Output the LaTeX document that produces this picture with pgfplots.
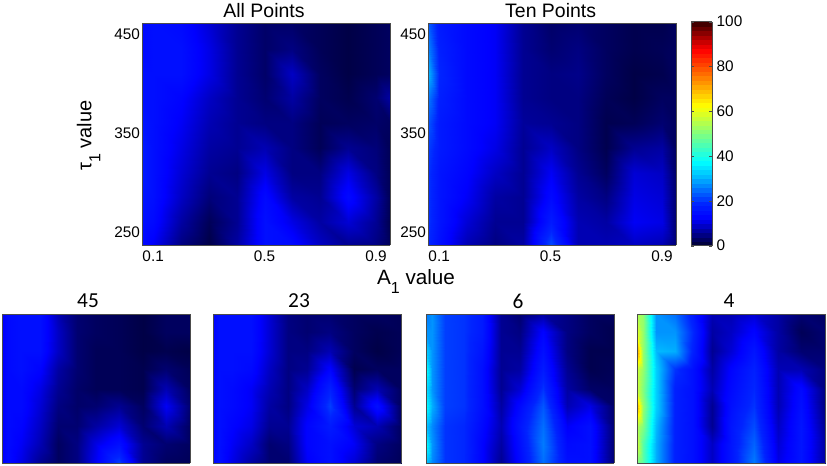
\documentclass[border=0pt]{standalone}
\usepackage{pgfplots}
\usepackage{fontspec}
\setmainfont{Liberation Sans}
\newfontfamily\carlito{Carlito}
\pgfplotsset{compat=1.18}
\pgfplotsset{
 colormap={rjet}{rgb255=(0,0,45) rgb255=(0,0,150) rgb255=(0,0,255) rgb255=(0,35,255) rgb255=(0,110,255) rgb255=(0,190,255) rgb255=(0,255,255) rgb255=(64,255,192) rgb255=(128,255,128) rgb255=(192,255,64) rgb255=(255,255,0) rgb255=(255,192,0) rgb255=(255,128,0) rgb255=(255,64,0) rgb255=(255,0,0) rgb255=(160,0,0) rgb255=(50,0,0)},
 panel/.style={scale only axis, axis on top, view={0}{90}, colormap name=rjet,
   point meta min=0, point meta max=100, axis line style={color=black!70,line width=0.6pt},
   /pgf/number format/assume math mode=true, anchor=south west},
 top/.style={panel, width=186pt, height=166.5pt, xmin=0.06, xmax=0.95, ymin=237, ymax=461,
   xtick={0.1,0.5,0.9}, ytick={250,350,450}, xticklabels={0.1,0.5,0.9},
   tick align=inside, major tick length=0pt, 
   tick label style={font=\fontsize{11.5}{13}\selectfont},
   xticklabel style={yshift=-1pt}, yticklabel style={xshift=2pt}},
 low/.style={panel, width=141pt, height=111.75pt, xmin=0, xmax=1, ymin=0, ymax=1, xtick=\empty, ytick=\empty},
 sf/.style={surf, shader=interp, mesh/rows=10, mesh/cols=11},
 sl/.style={surf, shader=interp, mesh/rows=9, mesh/cols=11},
}
\begin{document}
\begin{tikzpicture}
\path[use as bounding box] (0,0) rectangle (620.25pt,348.75pt);
% All Points
\begin{axis}[top, at={(106.5pt,165pt)}]
\addplot3[sf] table {
0.06 237 14
0.1 237 12
0.2 237 5
0.3 237 1.5
0.4 237 7
0.5 237 15
0.6 237 14
0.7 237 9
0.8 237 6
0.9 237 5
0.95 237 2.5
0.06 260 15
0.1 260 14
0.2 260 7
0.3 260 2.5
0.4 260 6
0.5 260 15
0.6 260 11
0.7 260 7
0.8 260 10
0.9 260 6
0.95 260 2
0.06 285 16
0.1 285 15
0.2 285 9
0.3 285 4.5
0.4 285 6
0.5 285 14
0.6 285 7
0.7 285 6
0.8 285 14
0.9 285 7
0.95 285 2.5
0.06 310 17
0.1 310 15
0.2 310 10
0.3 310 6
0.4 310 5
0.5 310 11
0.6 310 5
0.7 310 5
0.8 310 11
0.9 310 5
0.95 310 2.5
0.06 335 17
0.1 335 15
0.2 335 11
0.3 335 7
0.4 335 6
0.5 335 8
0.6 335 5
0.7 335 2.5
0.8 335 6
0.9 335 4.5
0.95 335 2.5
0.06 360 16
0.1 360 15
0.2 360 12
0.3 360 8
0.4 360 6
0.5 360 5
0.6 360 5
0.7 360 2.5
0.8 360 3
0.9 360 3.5
0.95 360 3
0.06 385 15
0.1 385 15
0.2 385 13
0.3 385 9
0.4 385 6
0.5 385 4
0.6 385 7
0.7 385 3
0.8 385 2
0.9 385 4
0.95 385 7
0.06 410 15
0.1 410 15
0.2 410 15
0.3 410 11
0.4 410 6
0.5 410 3.5
0.6 410 9
0.7 410 3
0.8 410 1.5
0.9 410 2.5
0.95 410 3
0.06 435 14
0.1 435 15
0.2 435 15
0.3 435 11
0.4 435 6
0.5 435 3.5
0.6 435 5
0.7 435 2.5
0.8 435 1.5
0.9 435 2.5
0.95 435 3
0.06 461 14
0.1 461 15
0.2 461 14
0.3 461 10
0.4 461 6
0.5 461 3.5
0.6 461 3.5
0.7 461 2.5
0.8 461 1.5
0.9 461 2.5
0.95 461 3
};
\end{axis}
% Ten Points
\begin{axis}[top, at={(321pt,165pt)}]
\addplot3[sf] table {
0.06 237 19
0.1 237 15
0.2 237 8
0.3 237 5
0.4 237 7
0.5 237 22
0.6 237 8
0.7 237 8
0.8 237 9
0.9 237 8
0.95 237 4
0.06 260 20
0.1 260 16
0.2 260 10
0.3 260 6
0.4 260 6
0.5 260 17
0.6 260 8
0.7 260 7
0.8 260 12
0.9 260 11
0.95 260 4
0.06 285 20
0.1 285 16
0.2 285 12
0.3 285 7
0.4 285 6
0.5 285 14
0.6 285 7
0.7 285 5
0.8 285 11
0.9 285 10
0.95 285 4
0.06 310 20
0.1 310 16
0.2 310 13
0.3 310 9
0.4 310 6
0.5 310 12
0.6 310 6
0.7 310 3
0.8 310 10
0.9 310 9
0.95 310 3.5
0.06 335 21
0.1 335 17
0.2 335 14
0.3 335 11
0.4 335 6
0.5 335 9
0.6 335 5
0.7 335 2
0.8 335 6
0.9 335 7
0.95 335 3
0.06 360 23
0.1 360 17
0.2 360 14
0.3 360 12
0.4 360 6.5
0.5 360 6
0.6 360 5
0.7 360 2
0.8 360 2.5
0.9 360 4
0.95 360 3
0.06 385 26
0.1 385 18
0.2 385 14
0.3 385 12
0.4 385 6
0.5 385 5
0.6 385 5
0.7 385 2.5
0.8 385 1.5
0.9 385 3
0.95 385 3
0.06 410 31
0.1 410 19
0.2 410 14
0.3 410 12
0.4 410 6
0.5 410 5
0.6 410 5.5
0.7 410 3
0.8 410 1.5
0.9 410 2
0.95 410 3
0.06 435 27
0.1 435 18
0.2 435 14
0.3 435 12
0.4 435 6
0.5 435 4
0.6 435 5
0.7 435 3
0.8 435 2
0.9 435 2.5
0.95 435 3
0.06 461 24
0.1 461 17
0.2 461 14
0.3 461 12
0.4 461 6
0.5 461 3.5
0.6 461 4
0.7 461 3
0.8 461 2
0.9 461 2
0.95 461 3
};
\end{axis}
% colour scale
\begin{axis}[panel, at={(518.25pt,164.5pt)}, width=15.75pt, height=168pt, xmin=0, xmax=1, ymin=0, ymax=100,
  xtick=\empty, ytick={0,20,40,60,80,100}, yticklabels={0,20,40,60,80,100}, yticklabel pos=right,
  tick align=inside, major tick length=2pt, tick style={color=black!70},
  tick label style={font=\fontsize{11.5}{13}\selectfont}]
\addplot3[surf, shader=faceted, faceted color=mapped color, line width=0.3pt, mesh/rows=51, mesh/cols=2] coordinates {
(0,0,0)(1,0,0)(0,2,2)(1,2,2)(0,4,4)(1,4,4)(0,6,6)(1,6,6)(0,8,8)(1,8,8)
(0,10,10)(1,10,10)(0,12,12)(1,12,12)(0,14,14)(1,14,14)(0,16,16)(1,16,16)(0,18,18)(1,18,18)
(0,20,20)(1,20,20)(0,22,22)(1,22,22)(0,24,24)(1,24,24)(0,26,26)(1,26,26)(0,28,28)(1,28,28)
(0,30,30)(1,30,30)(0,32,32)(1,32,32)(0,34,34)(1,34,34)(0,36,36)(1,36,36)(0,38,38)(1,38,38)
(0,40,40)(1,40,40)(0,42,42)(1,42,42)(0,44,44)(1,44,44)(0,46,46)(1,46,46)(0,48,48)(1,48,48)
(0,50,50)(1,50,50)(0,52,52)(1,52,52)(0,54,54)(1,54,54)(0,56,56)(1,56,56)(0,58,58)(1,58,58)
(0,60,60)(1,60,60)(0,62,62)(1,62,62)(0,64,64)(1,64,64)(0,66,66)(1,66,66)(0,68,68)(1,68,68)
(0,70,70)(1,70,70)(0,72,72)(1,72,72)(0,74,74)(1,74,74)(0,76,76)(1,76,76)(0,78,78)(1,78,78)
(0,80,80)(1,80,80)(0,82,82)(1,82,82)(0,84,84)(1,84,84)(0,86,86)(1,86,86)(0,88,88)(1,88,88)
(0,90,90)(1,90,90)(0,92,92)(1,92,92)(0,94,94)(1,94,94)(0,96,96)(1,96,96)(0,98,98)(1,98,98)
(0,100,100)(1,100,100)
};
\end{axis}
% 45
\begin{axis}[low, at={(1.5pt,1.5pt)}]
\addplot3[sl] table {
0 0 12
.03 0 14
.1 0 11
.2 0 6
.3 0 3
.4 0 5
.5 0 12
.62 0 21
.75 0 6
.87 0 3
1 0 2.5
0 .13 12
.03 .13 14
.1 .13 12
.2 .13 8
.3 .13 3
.4 .13 5
.5 .13 11
.62 .13 15
.75 .13 6
.87 .13 4
1 .13 3
0 .25 12
.03 .25 14
.1 .25 13
.2 .25 9
.3 .25 4
.4 .25 4
.5 .25 7
.62 .25 10
.75 .25 4
.87 .25 8
1 .25 3
0 .38 12
.03 .38 14
.1 .38 14
.2 .38 10
.3 .38 5
.4 .38 3.5
.5 .38 4
.62 .38 6
.75 .38 3
.87 .38 12
1 .38 4
0 .5 12
.03 .5 14
.1 .5 14
.2 .5 11
.3 .5 6
.4 .5 3.5
.5 .5 2.5
.62 .5 2.5
.75 .5 2
.87 .5 8
1 .5 3
0 .63 12
.03 .63 14
.1 .63 15
.2 .63 13
.3 .63 7
.4 .63 4
.5 .63 2.5
.62 .63 2.5
.75 .63 2
.87 .63 4
1 .63 2.5
0 .75 12
.03 .75 14
.1 .75 15
.2 .75 15
.3 .75 9
.4 .75 4
.5 .75 2.5
.62 .75 2.5
.75 .75 1.5
.87 .75 2
1 .75 1.5
0 .88 12
.03 .88 14
.1 .88 15
.2 .88 15
.3 .88 9
.4 .88 4
.5 .88 3
.62 .88 2.5
.75 .88 1.5
.87 .88 3
1 .88 3
0 1 12
.03 1 14
.1 1 15
.2 1 15
.3 1 8
.4 1 4
.5 1 3
.62 1 2.5
.75 1 1.5
.87 1 3
1 1 3
};
\end{axis}
% 23
\begin{axis}[low, at={(159.75pt,1.5pt)}]
\addplot3[sl] table {
0 0 13
.03 0 15
.1 0 11
.2 0 7
.3 0 4
.4 0 4
.5 0 12
.62 0 15
.75 0 10
.87 0 4
1 0 2.5
0 .13 13
.03 .13 15
.1 .13 12
.2 .13 9
.3 .13 4
.4 .13 5
.5 .13 13
.62 .13 15
.75 .13 12
.87 .13 5
1 .13 3
0 .25 13
.03 .25 15
.1 .25 13
.2 .25 11
.3 .25 6
.4 .25 6
.5 .25 13
.62 .25 17
.75 .25 10
.87 .25 8
1 .25 3
0 .38 13
.03 .38 15
.1 .38 14
.2 .38 12
.3 .38 7
.4 .38 5
.5 .38 11
.62 .38 21
.75 .38 6
.87 .38 15
1 .38 3
0 .5 13
.03 .5 15
.1 .5 14
.2 .5 12
.3 .5 8
.4 .5 5
.5 .5 9
.62 .5 18
.75 .5 4
.87 .5 8
1 .5 3
0 .63 13
.03 .63 15
.1 .63 15
.2 .63 14
.3 .63 9
.4 .63 5
.5 .63 6
.62 .63 13
.75 .63 2
.87 .63 3
1 .63 3
0 .75 13
.03 .75 15
.1 .75 15
.2 .75 15
.3 .75 10
.4 .75 5
.5 .75 5
.62 .75 8
.75 .75 3
.87 .75 1.5
1 .75 2.5
0 .88 13
.03 .88 15
.1 .88 15
.2 .88 15
.3 .88 10
.4 .88 5
.5 .88 4
.62 .88 5
.75 .88 3
.87 .88 2
1 .88 2.5
0 1 13
.03 1 15
.1 1 15
.2 1 15
.3 1 10
.4 1 5
.5 1 4
.62 1 4
.75 1 3
.87 1 3
1 1 2.5
};
\end{axis}
% 6
\begin{axis}[low, at={(319.5pt,1.5pt)}]
\addplot3[sl] table {
0 0 32
.03 0 27
.1 0 20
.2 0 19
.3 0 13
.4 0 6
.5 0 14
.62 0 25
.75 0 15
.87 0 15
1 0 4
0 .13 38
.03 .13 28
.1 .13 20
.2 .13 19
.3 .13 13
.4 .13 7
.5 .13 15
.62 .13 26
.75 .13 14
.87 .13 15
1 .13 4
0 .25 32
.03 .25 27
.1 .25 20
.2 .25 19
.3 .25 14
.4 .25 8
.5 .25 16
.62 .25 25
.75 .25 12
.87 .25 15
1 .25 4
0 .38 38
.03 .38 30
.1 .38 21
.2 .38 20
.3 .38 15
.4 .38 7
.5 .38 14
.62 .38 23
.75 .38 8
.87 .38 11
1 .38 3.5
0 .5 35
.03 .5 28
.1 .5 21
.2 .5 20
.3 .5 15
.4 .5 6
.5 .5 10
.62 .5 20
.75 .5 7
.87 .5 3.5
1 .5 3
0 .63 38
.03 .63 28
.1 .63 21
.2 .63 20
.3 .63 15
.4 .63 6
.5 .63 7
.62 .63 17
.75 .63 6
.87 .63 2
1 .63 2.5
0 .75 33
.03 .75 28
.1 .75 21
.2 .75 20
.3 .75 16
.4 .75 6
.5 .75 6
.62 .75 15
.75 .75 5
.87 .75 2
1 .75 2
0 .88 28
.03 .88 28
.1 .88 21
.2 .88 20
.3 .88 17
.4 .88 6
.5 .88 5
.62 .88 13
.75 .88 5
.87 .88 3
1 .88 2
0 1 26
.03 1 28
.1 1 21
.2 1 20
.3 1 17
.4 1 6
.5 1 4
.62 1 7
.75 1 5
.87 1 3
1 1 3
};
\end{axis}
% 4
\begin{axis}[low, at={(477.75pt,1.5pt)}]
\addplot3[sl] table {
0 0 50
.03 0 46
.1 0 30
.2 0 18
.3 0 15
.4 0 9
.5 0 16
.62 0 26
.75 0 11
.87 0 16
1 0 7
0 .13 58
.03 .13 46
.1 .13 30
.2 .13 18
.3 .13 15
.4 .13 9
.5 .13 16
.62 .13 24
.75 .13 10
.87 .13 16
1 .13 7
0 .25 56
.03 .25 50
.1 .25 31
.2 .25 18
.3 .25 15
.4 .25 6
.5 .25 16
.62 .25 22
.75 .25 9
.87 .25 16
1 .25 6
0 .38 70
.03 .38 52
.1 .38 33
.2 .38 18
.3 .38 15
.4 .38 6
.5 .38 15
.62 .38 20
.75 .38 8
.87 .38 15
1 .38 5
0 .5 58
.03 .5 50
.1 .5 33
.2 .5 18
.3 .5 15
.4 .5 8
.5 .5 14
.62 .5 19
.75 .5 8
.87 .5 14
1 .5 5
0 .63 58
.03 .63 52
.1 .63 33
.2 .63 20
.3 .63 15
.4 .63 7
.5 .63 13
.62 .63 18
.75 .63 8
.87 .63 8
1 .63 5
0 .75 72
.03 .75 52
.1 .75 31
.2 .75 30
.3 .75 18
.4 .75 6
.5 .75 10
.62 .75 16
.75 .75 7
.87 .75 4
1 .75 4
0 .88 60
.03 .88 52
.1 .88 28
.2 .88 28
.3 .88 19
.4 .88 7
.5 .88 9
.62 .88 13
.75 .88 7
.87 .88 2.5
1 .88 4
0 1 55
.03 1 52
.1 1 28
.2 1 25
.3 1 17
.4 1 8
.5 1 8
.62 1 10
.75 1 7
.87 1 4
1 1 3
};
\end{axis}
% titles and labels
\node[font=\fontsize{14.6}{16}\selectfont] at (198pt,340.5pt) {All Points};
\node[font=\fontsize{14.6}{16}\selectfont] at (413pt,340.5pt) {Ten Points};
\node[font=\fontsize{15.5}{17}\selectfont] at (312pt,137.5pt) {A\raisebox{-0.45em}{\fontsize{12}{12}\selectfont 1} value};
\node[font=\fontsize{15}{17}\selectfont, rotate=90] at (66.5pt,247pt) {τ\raisebox{-0.45em}{\fontsize{12}{12}\selectfont 1} value};
\node[font=\carlito\fontsize{16}{18}\selectfont] at (66pt,123pt) {45};
\node[font=\carlito\fontsize{16}{18}\selectfont] at (224.25pt,123pt) {23};
\node[font=\carlito\fontsize{16}{18}\selectfont] at (388.5pt,123pt) {6};
\node[font=\carlito\fontsize{16}{18}\selectfont] at (546.75pt,123pt) {4};
\end{tikzpicture}
\end{document}
